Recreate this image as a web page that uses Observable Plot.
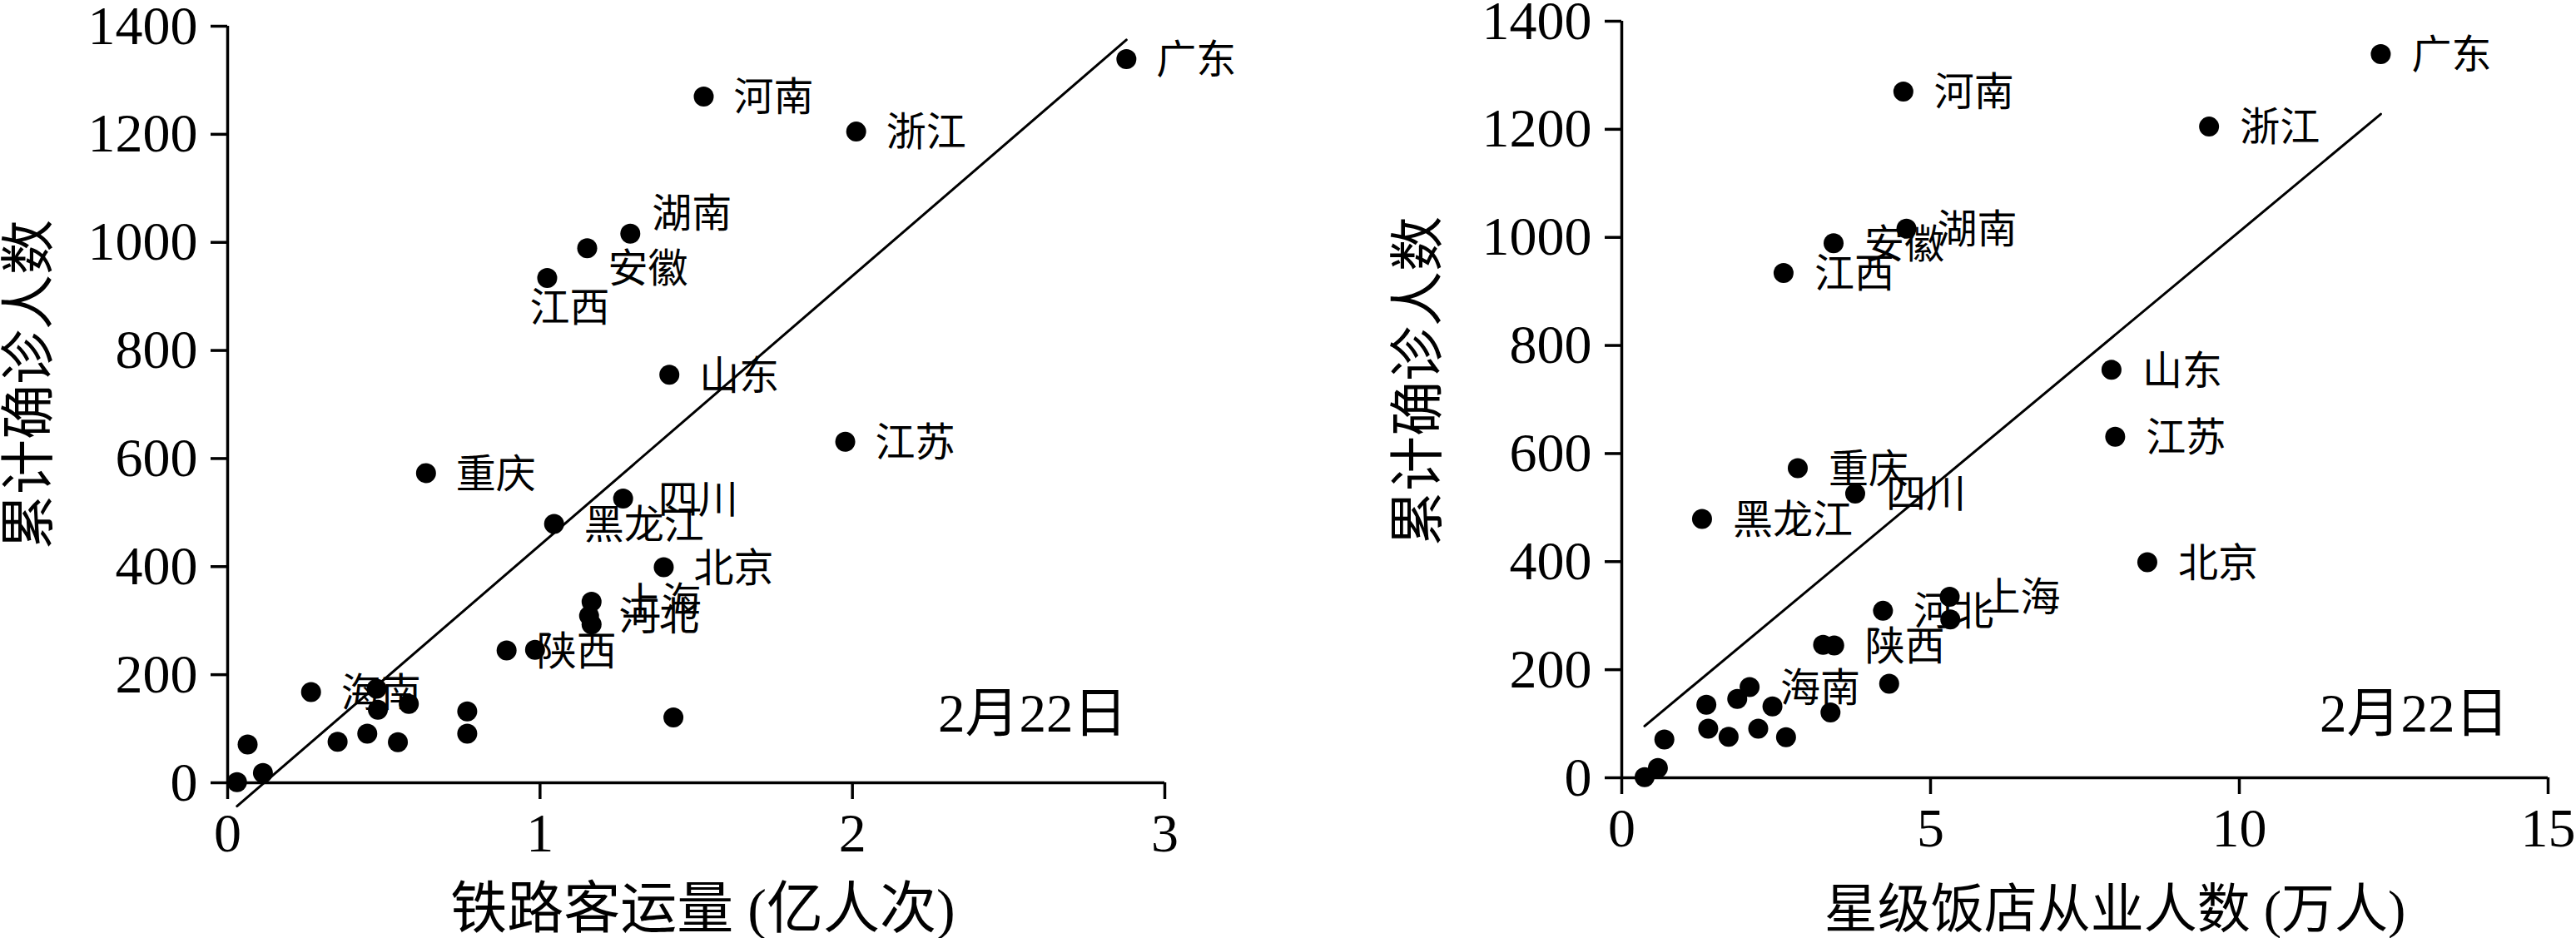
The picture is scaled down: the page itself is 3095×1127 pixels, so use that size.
<!DOCTYPE html>
<html>
<head>
<meta charset="utf-8">
<script src="https://cdn.jsdelivr.net/npm/d3@7"></script>
<script src="https://cdn.jsdelivr.net/npm/@observablehq/plot@0.6"></script>
<style>
  html, body { margin: 0; padding: 0; background: #fff; }
  #wrap { display: flex; width: 3095px; height: 1127px; }
  #wrap svg { max-width: none; overflow: visible; }
</style>
</head>
<body>
<div id="wrap"></div>
<script>
// ---- data ----
const provinces = ["广东","河南","浙江","湖南","安徽","江西","山东","江苏","重庆","四川","黑龙江","北京","上海","河北","福建","广西","陕西","云南","海南","贵州","天津","山西","辽宁","吉林","甘肃","新疆","内蒙古","宁夏","青海","西藏"];
const cases = [1339,1270,1205,1016,989,934,755,631,573,526,479,399,335,309,293,246,245,174,168,146,135,132,121,91,91,76,75,71,18,1];
const railway = [2.877,1.524,2.012,1.289,1.151,1.023,1.414,1.977,0.635,1.266,1.045,1.396,1.165,1.157,1.165,0.984,0.893,0.477,0.267,0.580,0.481,0.767,1.427,0.767,0.447,0.352,0.545,0.064,0.113,0.030];
const hotelStaff = [12.29,4.56,9.51,4.61,3.43,2.62,7.93,7.99,2.85,3.78,1.30,8.51,5.31,4.23,5.32,3.26,3.44,4.33,2.07,1.87,1.37,2.44,3.38,1.40,2.21,1.73,2.66,0.69,0.585,0.37];
const labeled = ["广东","河南","浙江","湖南","安徽","江西","山东","江苏","重庆","四川","黑龙江","北京","上海","河北","陕西","海南"];
const railTicks = [0,1,2,3];
const hotelTicks = [0,5,10,15];
const caseTicks = [0,200,400,600,800,1000,1200,1400];
const railTitle = "铁路客运量 (亿人次)";
const hotelTitle = "星级饭店从业人数 (万人)";
const yTitle = "累计确诊人数";
const dateLabel = "2月22日";

// ---- layout (label nudges, margins) ----
const FONT = "'Liberation Serif', 'Noto Sans CJK SC', serif";

function panel(cfg) {
  const rows = provinces.map((name, i) => ({name, x: cfg.xs[i], y: cases[i]}));
  const labelRows = rows.filter(d => labeled.includes(d.name));
  const groups = d3.groups(labelRows, d => (cfg.offsets[d.name] || cfg.defaultOffset).join(","));
  const labelMarks = groups.map(([key, data]) => {
    const [dx, dy] = key.split(",").map(Number);
    return Plot.text(data, {x: "x", y: "y", text: "name", dx, dy, textAnchor: "start", lineAnchor: "middle", fontSize: 48, fill: "black"});
  });
  return Plot.plot({
    width: cfg.width,
    height: 1127,
    marginLeft: cfg.m[0], marginRight: cfg.m[1], marginTop: cfg.m[2], marginBottom: cfg.m[3],
    style: {fontFamily: FONT, background: "white", color: "black", maxWidth: "none", overflow: "visible"},
    x: {domain: [0, d3.max(cfg.ticks)]},
    y: {domain: [0, 1400]},
    marks: [
      Plot.axisX({ticks: cfg.ticks, tickSize: 20, tickPadding: 16, fontSize: 66, strokeWidth: 3.5, label: null, tickFormat: d => String(d)}),
      Plot.axisY({ticks: caseTicks, tickSize: 20, tickPadding: 16, fontSize: 66, strokeWidth: 3.5, label: null, tickFormat: d => String(d)}),
      Plot.ruleX([0], {strokeWidth: 3.5}),
      Plot.ruleY([0], {strokeWidth: 3.5}),
      Plot.linearRegressionY(rows, {x: "x", y: "y", ci: 0, stroke: "black", strokeWidth: 3}),
      Plot.dot(rows, {x: "x", y: "y", r: 12, fill: "black", stroke: "none"}),
      ...labelMarks,
      Plot.text([cfg.xTitle], {text: d => d, frameAnchor: "bottom", textAnchor: "middle", dx: cfg.xt[0], dy: cfg.xt[1], fontSize: cfg.xtSize, lineAnchor: "middle", fill: "black"}),
      Plot.text([yTitle], {text: d => d, frameAnchor: "left", textAnchor: "middle", rotate: -90, dx: cfg.yt[0], dy: cfg.yt[1], fontSize: 66, lineAnchor: "middle", fill: "black"}),
      Plot.text([dateLabel], {text: d => d, frameAnchor: "bottom-right", textAnchor: "end", dx: cfg.dt[0], dy: cfg.dt[1], fontSize: 65, lineAnchor: "middle", fill: "black"})
    ]
  });
}

const wrap = document.getElementById("wrap");
wrap.append(panel({
  xs: railway, ticks: railTicks, xTitle: railTitle, width: 1548,
  m: [273, 149, 31, 187],
  offsets: {"湖南": [26, -23], "安徽": [25, 25], "江西": [-21, 37], "四川": [42, 3]},
  defaultOffset: [36, 2],
  xt: [8, 153], xtSize: 68, yt: [-238, -24], dt: [-45, -82]
}));
wrap.append(panel({
  xs: hotelStaff, ticks: hotelTicks, xTitle: hotelTitle, width: 1547,
  m: [400, 34, 25, 193],
  offsets: {},
  defaultOffset: [37, 2],
  xt: [36, 159], xtSize: 64, yt: [-244, -22], dt: [-47, -76]
}));
</script>
</body>
</html>
